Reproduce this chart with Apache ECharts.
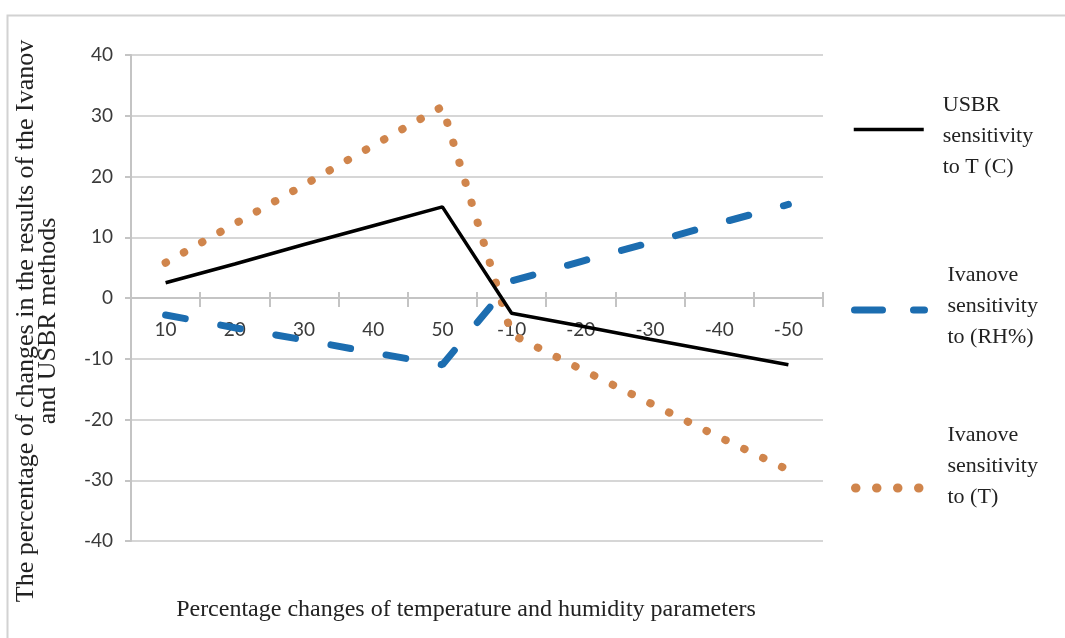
<!DOCTYPE html>
<html>
<head>
<meta charset="utf-8">
<script src="https://cdn.jsdelivr.net/npm/echarts@6/dist/echarts.min.js"></script>
<style>
html,body{margin:0;padding:0;background:#fff;}
#chart{width:1065px;height:638px;}
</style>
</head>
<body>
<div id="chart"></div>
<script>
// ---- data ----
var categories = ['10', '20', '30', '40', '50', '-10', '-20', '-30', '-40', '-50'];
var usbrSensT = [2.5, 5.6, 8.8, 11.9, 15.0, -2.5, -4.6, -6.8, -8.9, -11.0];
var ivanovSensRH = [-2.8, -4.9, -6.9, -9.0, -11.0, 2.8, 6.0, 9.1, 12.3, 15.4];
var ivanovSensT = [5.8, 12.2, 18.6, 25.1, 31.5, -6.0, -11.7, -17.3, -22.9, -28.3];
var seriesNames = ['USBR sensitivity to T (C)', 'Ivanove sensitivity to (RH%)', 'Ivanove sensitivity to (T)'];
var legendLines = [['USBR', 'sensitivity', 'to T (C)'], ['Ivanove', 'sensitivity', 'to (RH%)'], ['Ivanove', 'sensitivity', 'to (T)']];
var yTicks = {min: -40, max: 40, interval: 10};
var xTitle = 'Percentage changes of temperature and humidity parameters';
var yTitle = 'The percentage of changes in the results of the Ivanov\nand USBR methods';

var BLACK = '#000000', BLUE = '#1c6db0', ORANGE = '#d0854c';
var GRID = '#d6d6d6', AXIS = '#c4c4c4';
var serif = '"Liberation Serif", "Times New Roman", serif';
var sans = 'Lato, "Liberation Sans", sans-serif';

var GRID_TOP = 55, GRID_BOTTOM = 97, CHART_H = 638;
var plotH = CHART_H - GRID_TOP - GRID_BOTTOM;
// distance from bottom edge of the plot up to the value 0
var zeroOffset = plotH * (0 - yTicks.min) / (yTicks.max - yTicks.min);

function legendFor(i, left, top, lineStyle, padLeft, spacerTop, spacerBottom) {
  return {
    data: [seriesNames[i]],
    left: left, top: top, orient: 'vertical', padding: 0,
    itemWidth: 70, itemHeight: 14, selectedMode: false,
    formatter: function () {
      var s = legendLines[i].map(function (t) { return '{a|' + t + '}'; }).join('\n');
      if (spacerTop) s = '{t| }\n' + s;
      if (spacerBottom) s = s + '\n{b| }';
      return s;
    },
    lineStyle: lineStyle,
    itemStyle: {opacity: 0},
    textStyle: {
      fontFamily: serif, fontSize: 22, lineHeight: 31, color: '#222', padding: [0, 0, 0, padLeft],
      rich: {
        a: {fontFamily: serif, fontSize: 22, lineHeight: 31, color: '#222'},
        t: {fontSize: 2, lineHeight: spacerTop || 1},
        b: {fontSize: 2, lineHeight: spacerBottom || 1}
      }
    }
  };
}

var chart = echarts.init(document.getElementById('chart'), null, {renderer: 'canvas'});
chart.setOption({
  animation: false,
  backgroundColor: '#fff',
  grid: {left: 131, right: 242, top: GRID_TOP, bottom: GRID_BOTTOM, containLabel: false},
  xAxis: [{
    type: 'category', data: categories, position: 'bottom', boundaryGap: true,
    axisLine: {show: true, onZero: true, lineStyle: {color: AXIS, width: 2}},
    axisTick: {show: true, length: 9, lineStyle: {color: AXIS, width: 2}},
    axisLabel: {show: false},
    splitLine: {show: false}
  }, {
    type: 'category', data: categories, position: 'bottom', boundaryGap: true,
    offset: -zeroOffset,
    axisLine: {show: false, onZero: false},
    axisTick: {show: true, inside: true, length: 6, lineStyle: {color: AXIS, width: 2}},
    axisLabel: {show: true, margin: 22, fontFamily: sans, fontSize: 19, color: '#3a3a3a'},
    splitLine: {show: false}
  }],
  yAxis: [{
    type: 'value', min: yTicks.min, max: yTicks.max, interval: yTicks.interval,
    axisLine: {show: true, lineStyle: {color: AXIS, width: 2}},
    axisTick: {show: true, length: 6, lineStyle: {color: AXIS, width: 2}},
    axisLabel: {margin: 18, fontFamily: sans, fontSize: 19, color: '#3a3a3a'},
    splitLine: {show: true, lineStyle: {color: GRID, width: 2}}
  }],
  legend: [
    legendFor(0, 852, 76, {width: 3.5, type: 'solid', cap: 'butt'}, 14, 14, 0),
    legendFor(1, 851, 259.5, {width: 7, type: [28, 31], cap: 'round'}, 18, 0, 8),
    legendFor(2, 851, 419.5, {width: 9, type: [0.5, 20.5], cap: 'round'}, 17, 0, 44)
  ],
  series: [{
    name: seriesNames[1], type: 'line', data: ivanovSensRH, symbol: 'none', showSymbol: false,
    lineStyle: {color: BLUE, width: 7, type: [20, 36], cap: 'round'}, itemStyle: {color: BLUE}, z: 2
  }, {
    name: seriesNames[2], type: 'line', data: ivanovSensT, symbol: 'none', showSymbol: false,
    lineStyle: {color: ORANGE, width: 8, type: [0.5, 20.4], cap: 'round'}, itemStyle: {color: ORANGE}, z: 3
  }, {
    name: seriesNames[0], type: 'line', data: usbrSensT, symbol: 'none', showSymbol: false,
    lineStyle: {color: BLACK, width: 3.5}, itemStyle: {color: BLACK}, z: 4
  }],
  graphic: [{
    type: 'rect', left: 5, top: 13, silent: true,
    shape: {x: 0, y: 0, width: 1080, height: 650},
    style: {fill: 'none', stroke: '#d2d2d2', lineWidth: 2}
  }, {
    type: 'text', x: 37, y: 321, rotation: Math.PI / 2, silent: true,
    style: {text: yTitle, fontFamily: serif, fontSize: 26, lineHeight: 22, fill: '#222', align: 'center', verticalAlign: 'middle'}
  }, {
    type: 'text', x: 466, y: 610, silent: true,
    style: {text: xTitle, fontFamily: serif, fontSize: 24, fill: '#222', align: 'center', verticalAlign: 'middle'}
  }]
});
</script>
</body>
</html>
